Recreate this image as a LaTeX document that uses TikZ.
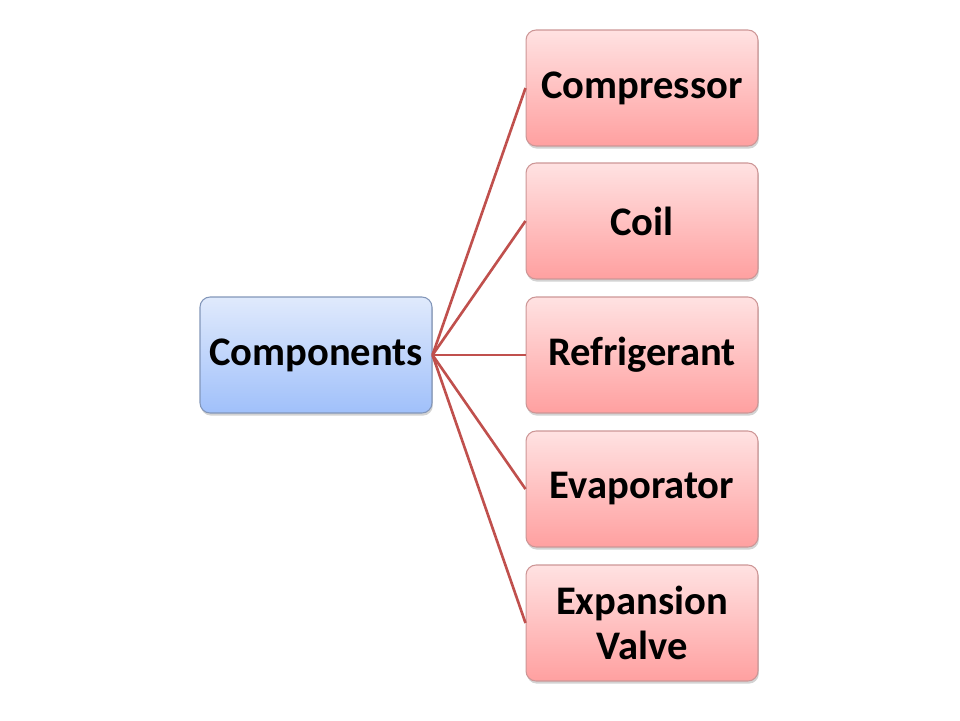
\documentclass[tikz,border=0pt]{standalone}
\usepackage{fontspec}
\setmainfont{Carlito}
\usetikzlibrary{shadows}
\definecolor{linkred}{RGB}{192,80,77}
\definecolor{hubtop}{RGB}{224,234,252}
\definecolor{hubbottom}{RGB}{160,192,250}
\definecolor{hubline}{RGB}{130,150,185}
\definecolor{parttop}{RGB}{255,226,226}
\definecolor{partbottom}{RGB}{255,160,160}
\definecolor{partline}{RGB}{205,150,150}

\begin{document}
\begin{tikzpicture}[x=0.02cm, y=-0.02cm,
  box/.style={rounded corners=0.2cm, minimum width=4.64cm, minimum height=2.32cm,
    align=center, font=\bfseries\fontsize{23.1}{25.5}\selectfont, line width=0.6pt,
    drop shadow={opacity=0.35, shadow xshift=0.5pt, shadow yshift=-1.5pt}},
  hub/.style={box, draw=hubline, top color=hubtop, bottom color=hubbottom},
  part/.style={box, draw=partline, top color=parttop, bottom color=partbottom},
  link/.style={linkred, line width=1.5pt}]
\useasboundingbox (0, 0) rectangle (960, 720);
%Centre
\node[hub] (components) at (316, 355) {Components};
%Parts
\node[part] (compressor) at (642, 88) {Compressor};
\node[part] (coil) at (642, 221) {Coil};
\node[part] (refrigerant) at (642, 355) {Refrigerant};
\node[part] (evaporator) at (642, 489) {Evaporator};
\node[part] (valve) at (642, 623) {Expansion\\Valve};
%Links
\foreach \p in {compressor, coil, refrigerant, evaporator, valve}
  \draw[link] (components.east) -- (\p.west);
\end{tikzpicture}
\end{document}
